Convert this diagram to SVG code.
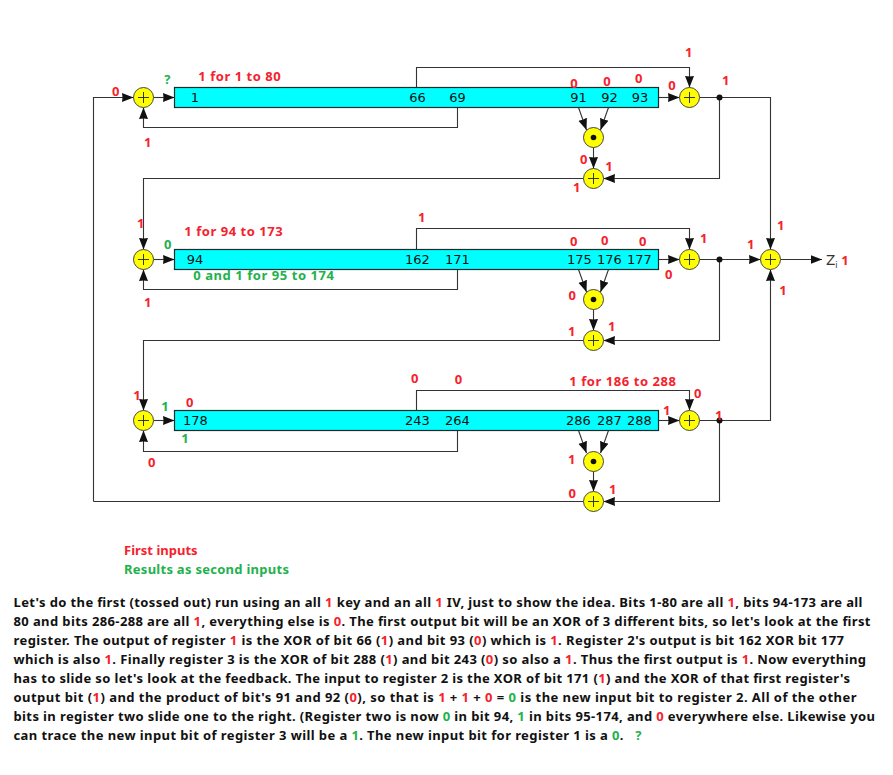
<svg xmlns="http://www.w3.org/2000/svg" width="893" height="775" viewBox="0 0 893 775">
<style>
.c{fill:none;stroke:#333;stroke-width:1.1}
.a{marker-end:url(#arr)}
.r{fill:#0ff;stroke:#1a2a2a;stroke-width:1.2}
.n{fill:#ff0;stroke:#444;stroke-width:1}
.p{fill:none;stroke:#222;stroke-width:.9}
.d{fill:#111}
.t{font:13px "DejaVu Sans",sans-serif;fill:#111;text-anchor:middle}
.l{font:bold 13px "Noto Sans",sans-serif;text-anchor:middle}
.s{font:bold 13px "Noto Sans",sans-serif}
.w{font:bold 13px "Noto Sans",sans-serif;fill:#111}
.R{fill:#f5222d}
.G{fill:#22b14c}
</style>
<defs>
<marker id="arr" markerUnits="userSpaceOnUse" markerWidth="12" markerHeight="10" refX="11.5" refY="4.5" orient="auto"><path d="M0 0L11.5 4.5L0 9L.5 4.5Z" fill="#111"/></marker>
<g id="xor"><circle class="n" r="10"/><path class="p" d="M-5.5 0H5.5M0 -5.5V5.5"/></g>
<g id="and"><circle class="n" r="10"/><circle class="d" r="2.8"/></g>
</defs>
<rect width="893" height="775" fill="#fff"/>
<g id="connectors">
<path class="c a" d="M93.5 501.5V97.5H133.5"/>
<path class="c a" d="M153.5 97.5H174.5"/>
<path class="c a" d="M416.5 87.5V67.5H689.5V87.5"/>
<path class="c a" d="M457.5 107.5V127.5H143.5V107.5"/>
<path class="c a" d="M658.5 97.5H679.5"/>
<path class="c a" d="M699.5 97.5H770.5V249.5"/>
<path class="c a" d="M719.5 97.5V178.5H603.5"/>
<path class="c a" d="M578.5 107.5L586.5 130"/>
<path class="c a" d="M608.5 107.5L600.5 130"/>
<path class="c a" d="M593.5 147.5V168.5"/>
<path class="c a" d="M583.5 178.5H143.5V249.5"/>
<path class="c a" d="M153.5 259.5H174.5"/>
<path class="c a" d="M416.5 249.5V228.5H689.5V249.5"/>
<path class="c a" d="M457.5 269.5V289.5H143.5V269.5"/>
<path class="c a" d="M658.5 259.5H679.5"/>
<path class="c a" d="M699.5 259.5H760.5"/>
<path class="c a" d="M780.5 259.5H822"/>
<path class="c a" d="M719.5 259.5V340.5H603.5"/>
<path class="c a" d="M578.5 269.5L586.5 292"/>
<path class="c a" d="M608.5 269.5L600.5 292"/>
<path class="c a" d="M593.5 309.5V330.5"/>
<path class="c a" d="M583.5 340.5H143.5V410.5"/>
<path class="c a" d="M153.5 420.5H174.5"/>
<path class="c a" d="M416.5 410.5V390.5H689.5V410.5"/>
<path class="c a" d="M457.5 430.5V451.5H143.5V430.5"/>
<path class="c a" d="M658.5 420.5H679.5"/>
<path class="c a" d="M699.5 420.5H770.5V269.5"/>
<path class="c a" d="M719.5 420.5V501.5H603.5"/>
<path class="c a" d="M578.5 430.5L586.5 453"/>
<path class="c a" d="M608.5 430.5L600.5 453"/>
<path class="c a" d="M593.5 471.5V491.5"/>
<path class="c" d="M583.5 501.5H93.5"/>
<circle class="d" cx="719.5" cy="97.5" r="3"/>
<circle class="d" cx="719.5" cy="259.5" r="3"/>
<circle class="d" cx="719.5" cy="420.5" r="3"/>
</g>
<g id="register1"><rect class="r" x="174.5" y="87.5" width="484" height="20"/>
<text class="t" x="195" y="102">1</text><text class="t" x="417.5" y="102">66</text><text class="t" x="457.5" y="102">69</text><text class="t" x="578.5" y="102">91</text><text class="t" x="609.5" y="102">92</text><text class="t" x="640" y="102">93</text></g>
<g id="register2"><rect class="r" x="174.5" y="249.5" width="484" height="20"/>
<text class="t" x="195" y="264">94</text><text class="t" x="417.5" y="264">162</text><text class="t" x="457.5" y="264">171</text><text class="t" x="579.5" y="264">175</text><text class="t" x="609.5" y="264">176</text><text class="t" x="639.5" y="264">177</text></g>
<g id="register3"><rect class="r" x="174.5" y="410.5" width="484" height="20"/>
<text class="t" x="195.5" y="425">178</text><text class="t" x="417.5" y="425">243</text><text class="t" x="457.5" y="425">264</text><text class="t" x="578.5" y="425">286</text><text class="t" x="609.5" y="425">287</text><text class="t" x="639.5" y="425">288</text></g>
<use id="xor-in1" href="#xor" x="143.5" y="97.5"/>
<use id="xor-out1" href="#xor" x="689.5" y="97.5"/>
<use id="and1" href="#and" x="593.5" y="137.5"/>
<use id="xor-fb1" href="#xor" x="593.5" y="178.5"/>
<use id="xor-in2" href="#xor" x="143.5" y="259.5"/>
<use id="xor-out2" href="#xor" x="689.5" y="259.5"/>
<use id="and2" href="#and" x="593.5" y="299.5"/>
<use id="xor-fb2" href="#xor" x="593.5" y="340.5"/>
<use id="xor-in3" href="#xor" x="143.5" y="420.5"/>
<use id="xor-out3" href="#xor" x="689.5" y="420.5"/>
<use id="and3" href="#and" x="593.5" y="461.5"/>
<use id="xor-fb3" href="#xor" x="593.5" y="501.5"/>
<use id="xor-z" href="#xor" x="770.5" y="259.5"/>
<g id="output"><text x="826" y="265" font-family="DejaVu Sans, sans-serif" font-size="13.5" fill="#333">Z<tspan font-size="8" dy="3">i</tspan></text></g>
<g id="labels">
<text class="l R" x="115.7" y="96">0</text>
<text class="l G" x="167.3" y="84">?</text>
<text class="s R" x="198.3" y="81" textLength="82.4">1 for 1 to 80</text>
<text class="l R" x="147.7" y="147">1</text>
<text class="l R" x="688.7" y="57">1</text>
<text class="l R" x="725.7" y="85">1</text>
<text class="l R" x="574" y="88">0</text>
<text class="l R" x="607" y="86">0</text>
<text class="l R" x="638.7" y="83">0</text>
<text class="l R" x="672" y="90">0</text>
<text class="l R" x="583.7" y="164">0</text>
<text class="l R" x="609" y="171">1</text>
<text class="l R" x="576.7" y="192">1</text>
<text class="l R" x="140.7" y="228">1</text>
<text class="s R" x="184.3" y="236" textLength="98.4">1 for 94 to 173</text>
<text class="l G" x="167.7" y="249">0</text>
<text class="s G" x="193.3" y="280" textLength="140.7">0 and 1 for 95 to 174</text>
<text class="l R" x="147.7" y="307">1</text>
<text class="l R" x="421.7" y="222">1</text>
<text class="l R" x="573.7" y="246">0</text>
<text class="l R" x="604.7" y="245">0</text>
<text class="l R" x="642.7" y="246">0</text>
<text class="l R" x="703.7" y="243">1</text>
<text class="l R" x="668.7" y="279">0</text>
<text class="l R" x="780.7" y="230">1</text>
<text class="l R" x="750.7" y="249">1</text>
<text class="l R" x="783" y="295">1</text>
<text class="l R" x="845" y="265">1</text>
<text class="l R" x="572.3" y="300">0</text>
<text class="l R" x="571.7" y="336">1</text>
<text class="l R" x="611.7" y="331">1</text>
<text class="l R" x="137" y="400">1</text>
<text class="l G" x="165" y="411">1</text>
<text class="l R" x="189.7" y="407">0</text>
<text class="l G" x="185" y="443">1</text>
<text class="l R" x="151.7" y="467">0</text>
<text class="l R" x="414.7" y="383">0</text>
<text class="l R" x="458.5" y="384">0</text>
<text class="s R" x="569.3" y="386" textLength="106.7">1 for 186 to 288</text>
<text class="l R" x="697.7" y="398">0</text>
<text class="l R" x="666.7" y="415">1</text>
<text class="l R" x="718.7" y="420">1</text>
<text class="l R" x="571.7" y="464">1</text>
<text class="l R" x="612.7" y="494">1</text>
<text class="l R" x="572.3" y="498">0</text>
<text class="s R" x="124" y="555">First inputs</text>
<text class="s G" x="124" y="574" textLength="165">Results as second inputs</text>
</g>
<g id="explanation">
<text class="w" x="13.5" y="607" textLength="849">Let's do the first (tossed out) run using an all <tspan class="R">1</tspan> key and an all <tspan class="R">1</tspan> IV, just to show the idea. Bits 1-80 are all <tspan class="R">1</tspan>, bits 94-173 are all</text>
<text class="w" x="13.5" y="626" textLength="857">80 and bits 286-288 are all <tspan class="R">1</tspan>, everything else is <tspan class="R">0</tspan>. The first output bit will be an XOR of 3 different bits, so let's look at the first</text>
<text class="w" x="13.5" y="645" textLength="830.5">register. The output of register <tspan class="R">1</tspan> is the XOR of bit 66 (<tspan class="R">1</tspan>) and bit 93 (<tspan class="R">0</tspan>) which is <tspan class="R">1</tspan>. Register 2's output is bit 162 XOR bit 177</text>
<text class="w" x="13.5" y="664" textLength="852.5">which is also <tspan class="R">1</tspan>. Finally register 3 is the XOR of bit 288 (<tspan class="R">1</tspan>) and bit 243 (<tspan class="R">0</tspan>) so also a <tspan class="R">1</tspan>. Thus the first output is <tspan class="R">1</tspan>. Now everything</text>
<text class="w" x="13.5" y="683" textLength="836.5">has to slide so let's look at the feedback. The input to register 2 is the XOR of bit 171 (<tspan class="R">1</tspan>) and the XOR of that first register's</text>
<text class="w" x="13.5" y="702" textLength="843">output bit (<tspan class="R">1</tspan>) and the product of bit's 91 and 92 (<tspan class="R">0</tspan>), so that is <tspan class="R">1</tspan> + <tspan class="R">1</tspan> + <tspan class="R">0</tspan> = <tspan class="G">0</tspan> is the new input bit to register 2. All of the other</text>
<text class="w" x="13.5" y="721" textLength="861.5">bits in register two slide one to the right. (Register two is now <tspan class="G">0</tspan> in bit 94, <tspan class="G">1</tspan> in bits 95-174, and <tspan class="R">0</tspan> everywhere else. Likewise you</text>
<text class="w" x="13.5" y="740" textLength="628">can trace the new input bit of register 3 will be a <tspan class="G">1</tspan>. The new input bit for register 1 is a <tspan class="G">0</tspan>.&#160;&#160; <tspan class="G">?</tspan></text>
</g>
</svg>
